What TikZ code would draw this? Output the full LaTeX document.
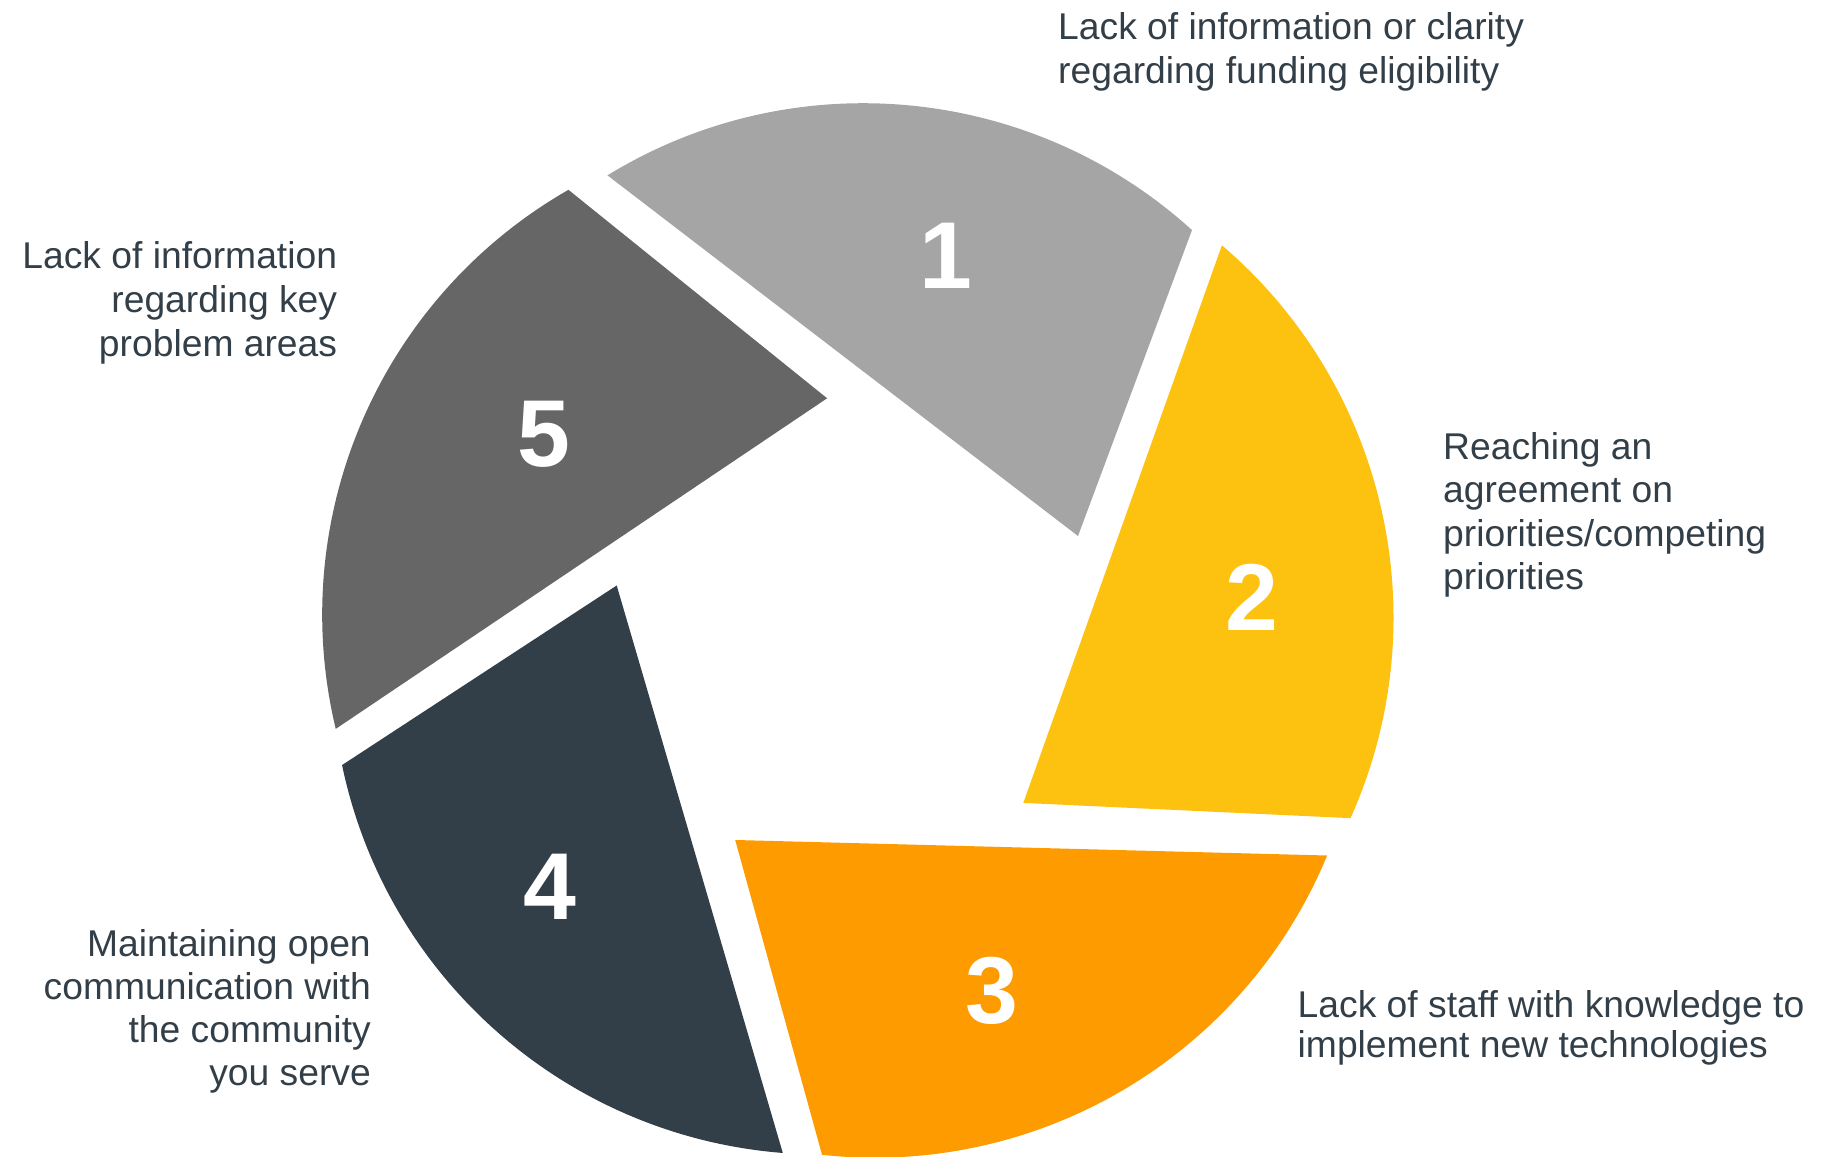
\documentclass[tikz,border=0pt]{standalone}
\usepackage{fontspec}
\setmainfont{Liberation Sans}
\definecolor{bladeA}{HTML}{A4A5A4}
\definecolor{bladeB}{HTML}{FDC110}
\definecolor{bladeC}{HTML}{FD9B00}
\definecolor{bladeD}{HTML}{333F48}
\definecolor{bladeE}{HTML}{666666}
\definecolor{labeltext}{HTML}{333F48}
\tikzset{
  numlabel/.style={text=white, inner sep=0pt, font=\fontsize{95}{95}\selectfont\bfseries},
  desc/.style={text=labeltext, inner sep=0pt},
}
\begin{document}
\begin{tikzpicture}[x=1pt,y=1pt]
\useasboundingbox (0,0) rectangle (1838,1156);
\clip (0,0) rectangle (1838,1156);
% blade 1
\coordinate (t1) at (1078,620);
\coordinate (a1) at (863.2,563.3);
\coordinate (l1) at ([shift={(121.5:489.5)}]a1);
\fill[bladeA] (t1) -- (l1) arc[start angle=121.5, end angle=47.8, radius=489.5pt] -- cycle;
% blade 2
\coordinate (t2) at (1023.3,353.1);
\coordinate (a2) at (904,538.5);
\coordinate (l2) at ([shift={(49.5:489.5)}]a2);
\fill[bladeB] (t2) -- (l2) arc[start angle=49.5, end angle=-24.2, radius=489.5pt] -- cycle;
% blade 3
\coordinate (t3) at (735.2,316);
\coordinate (a3) at (874.9,487.8);
\coordinate (l3) at ([shift={(-22.5:489.5)}]a3);
\fill[bladeC] (t3) -- (l3) arc[start angle=-22.5, end angle=-96.2, radius=489.5pt] -- cycle;
% blade 4
\coordinate (t4) at (616.7,570.5);
\coordinate (a4) at (821.2,491);
\coordinate (l4) at ([shift={(-94.5:489.5)}]a4);
\fill[bladeD] (t4) -- (l4) arc[start angle=-94.5, end angle=-168.2, radius=489.5pt] -- cycle;
% blade 5
\coordinate (t5) at (827.1,757.7);
\coordinate (a5) at (811.7,541.4);
\coordinate (l5) at ([shift={(-166.5:489.5)}]a5);
\fill[bladeE] (t5) -- (l5) arc[start angle=-166.5, end angle=-240.2, radius=489.5pt] -- cycle;
% numbers
\node[numlabel] (n1) at (945.5,899.7) {1};
\node[numlabel] (n2) at (1251.7,558.3) {2};
\node[numlabel] (n3) at (992.3,165.5) {3};
\node[numlabel] (n4) at (550,269.1) {4};
\node[numlabel] (n5) at (543.9,721.8) {5};
% descriptions
\node[desc, anchor=base west, font=\fontsize{37.25}{44}\selectfont] (d1) at (1058,1116)
  {\begin{tabular}[t]{@{}l@{}}Lack of information or clarity\\regarding funding eligibility\end{tabular}};
\node[desc, anchor=base west, font=\fontsize{37.25}{43.5}\selectfont] (d2) at (1443,696.7)
  {\begin{tabular}[t]{@{}l@{}}Reaching an\\agreement on\\priorities/competing\\priorities\end{tabular}};
\node[desc, anchor=base west, font=\fontsize{37.25}{40}\selectfont] (d3) at (1297.5,138.7)
  {\begin{tabular}[t]{@{}l@{}}Lack of staff with knowledge to\\implement new technologies\end{tabular}};
\node[desc, anchor=base east, font=\fontsize{37.25}{43.2}\selectfont] (d4) at (371,199.7)
  {\begin{tabular}[t]{@{}r@{}}Maintaining open\\communication with\\the community\\you serve\end{tabular}};
\node[desc, anchor=base east, font=\fontsize{37.25}{44}\selectfont] (d5) at (337.3,887.7)
  {\begin{tabular}[t]{@{}r@{}}Lack of information\\regarding key\\problem areas\end{tabular}};
\end{tikzpicture}
\end{document}
